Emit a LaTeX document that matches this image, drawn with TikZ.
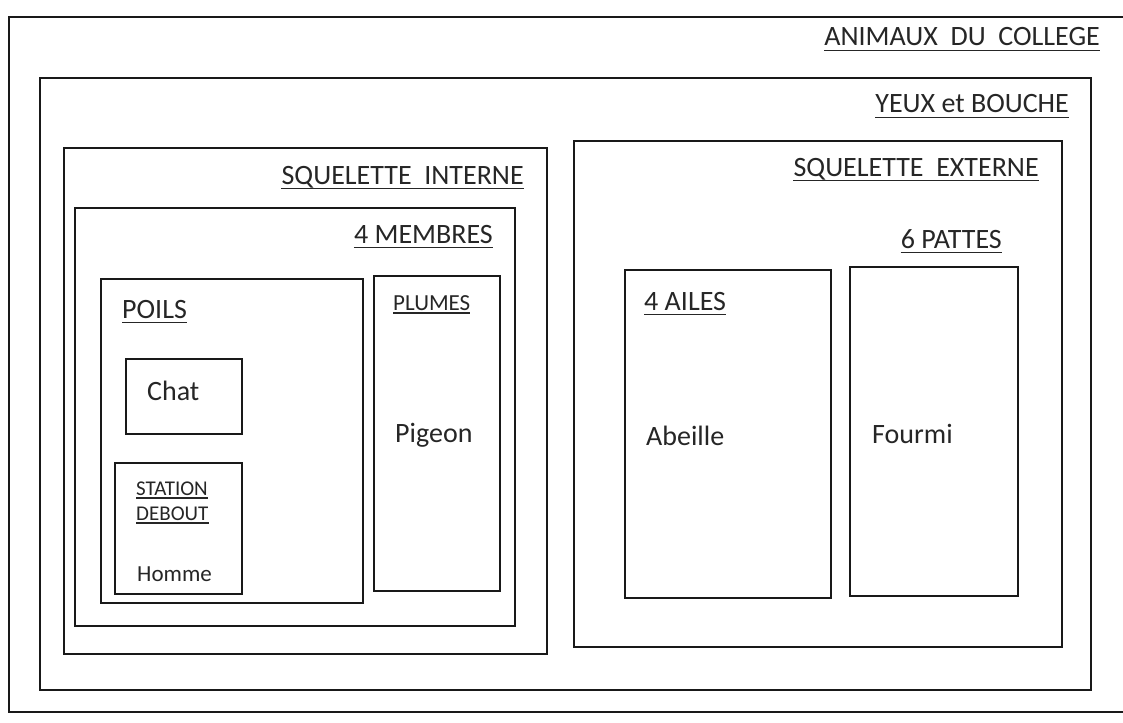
\documentclass[tikz,border=0pt]{standalone}
\usepackage{fontspec}
\setmainfont{Carlito}
\usetikzlibrary{fit}
\begin{document}
\begin{tikzpicture}[x=1pt,y=-1pt,
  frame/.style={draw=black!90, line width=1.6pt, inner sep=0pt},
  lbl/.style={inner sep=0pt, text=black!85, font=\fontsize{28}{30}\selectfont},
  small/.style={inner sep=0pt, text=black!85, font=\fontsize{23}{25}\selectfont},
  tiny/.style={inner sep=0pt, text=black!85, font=\fontsize{21}{23}\selectfont},
  ul/.style={append after command={([yshift=-4.5pt]\tikzlastnode.base west) edge[line width=1.4pt, draw=black!85] ([yshift=-4.5pt]\tikzlastnode.base east)}},
  ulsmall/.style={append after command={([yshift=-3pt]\tikzlastnode.base west) edge[line width=1.2pt, draw=black!85] ([yshift=-3pt]\tikzlastnode.base east)}}
]
\useasboundingbox[fill=white] (0,0) rectangle (1123,722);

% frames
\node[frame, fit={(9,17) (1140,712)}] (outer) {};
\node[frame, fit={(40,78) (1091,690)}] (yeux) {};
\node[frame, fit={(64,148) (547,654)}] (sqint) {};
\node[frame, fit={(574,141) (1062,647)}] (sqext) {};
\node[frame, fit={(75,208) (515,626)}] (membres) {};
\node[frame, fit={(101,279) (363,603)}] (poils) {};
\node[frame, fit={(126,359) (242,434)}] (chat) {};
\node[frame, fit={(115,463) (242,594)}] (homme) {};
\node[frame, fit={(374,276) (500,591)}] (plumes) {};
\node[frame, fit={(625,270) (831,598)}] (abeille) {};
\node[frame, fit={(850,267) (1018,596)}] (fourmi) {};

% labels
\node[lbl, ul, anchor=base east] (tanimaux) at (1100,46) {ANIMAUX\ \ DU\ \ COLLEGE};
\node[lbl, ul, anchor=base east] (tyeux) at (1069,113) {YEUX et BOUCHE};
\node[lbl, ul, anchor=base east] (tsqint) at (524,184) {SQUELETTE\ \ INTERNE};
\node[lbl, ul, anchor=base east] (tsqext) at (1039,176) {SQUELETTE\ \ EXTERNE};
\node[lbl, ul, anchor=base east] (tmembres) at (493,243) {4 MEMBRES};
\node[lbl, ul, anchor=base east] (tpattes) at (1002,248) {6 PATTES};
\node[lbl, ul, anchor=base west] (tailes) at (644,310) {4 AILES};
\node[lbl, ul, anchor=base west] (tpoils) at (122,318) {POILS};
\node[small, ulsmall, anchor=base west] (tplumes) at (393,310) {PLUMES};
\node[lbl, anchor=base west] (tchat) at (147,400) {Chat};
\node[tiny, ulsmall, anchor=base west] (tstation) at (136,495) {STATION};
\node[tiny, ulsmall, anchor=base west] (tdebout) at (136,520) {DEBOUT};
\node[small, anchor=base west] (thomme) at (137,581) {Homme};
\node[lbl, anchor=base west] (tpigeon) at (395,442) {Pigeon};
\node[lbl, anchor=base west] (tabeille) at (646,445) {Abeille};
\node[lbl, anchor=base west] (tfourmi) at (872,443) {Fourmi};
\end{tikzpicture}
\end{document}
